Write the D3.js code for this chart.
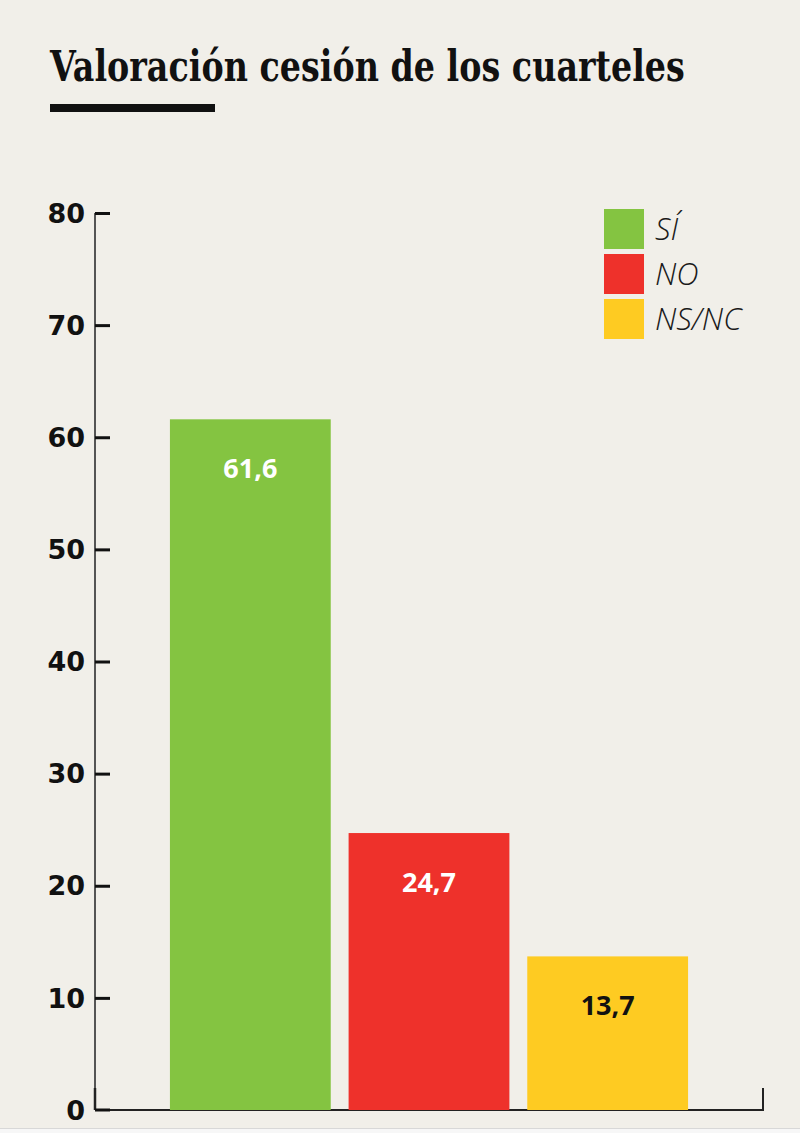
<!DOCTYPE html>
<html><head><meta charset="utf-8">
<script src="https://cdn.jsdelivr.net/npm/d3@7"></script>
<style>html,body{margin:0;padding:0;background:#f1efe9;}svg{display:block;}</style>
</head><body>
<script>
const categories = ["SÍ", "NO", "NS/NC"];
const values = [61.6, 24.7, 13.7];
const labels = ["61,6", "24,7", "13,7"];
const colors = ["#84c441", "#ee312b", "#fecb22"];
const labelColors = ["#ffffff", "#ffffff", "#111111"];
const tickValues = [0, 10, 20, 30, 40, 50, 60, 70, 80];
const title = "Valoración cesión de los cuarteles";

const W = 800, H = 1133;
const svg = d3.select("body").append("svg").attr("width", W).attr("height", H);
svg.append("rect").attr("width", W).attr("height", H).attr("fill", "#f1efe9");

// title (condensed horizontally to fit the reference width)
const tt = svg.append("text").attr("x", 0).attr("y", 0)
  .attr("font-family", "'DejaVu Serif', 'Liberation Serif', serif")
  .attr("font-weight", "bold").attr("font-size", 42)
  .attr("fill", "#111").text(title);
const natural = tt.node().getComputedTextLength();
tt.attr("transform", `translate(50,81) scale(${635 / natural},1)`);
svg.append("rect").attr("x", 50).attr("y", 104).attr("width", 165).attr("height", 8).attr("fill", "#111");

const y = d3.scaleLinear().domain([0, 80]).range([1110, 213]);
const x = d3.scaleBand().domain(categories).range([161, 697]).paddingInner(0.1).paddingOuter(0.05);

// y axis
const yAxis = d3.axisRight(y).tickValues(tickValues).tickSize(15).tickFormat("");
const gy = svg.append("g").attr("transform", "translate(95,0)").call(yAxis);
gy.select(".domain").attr("stroke", "#555").attr("stroke-width", 2).attr("d", `M0,${y(80)}V${y(0)}`);
gy.selectAll(".tick line").attr("stroke", "#111").attr("stroke-width", 3);
gy.selectAll(".tick").filter(d => d === 0).select("line").attr("x2", 0);

svg.append("g").selectAll("text").data(tickValues).join("text")
  .attr("x", 85).attr("y", d => y(d)).attr("dy", "0.36em")
  .attr("text-anchor", "end")
  .attr("font-family", "'DejaVu Sans', sans-serif").attr("font-weight", "bold").attr("font-size", 27)
  .attr("fill", "#111").text(d => d);

// x baseline
svg.append("path").attr("d", `M95,${y(0)}H763V${y(0) - 22}`).attr("fill", "none").attr("stroke", "#222").attr("stroke-width", 2);
svg.append("path").attr("d", `M95,${y(0)}V${y(0) - 22}`).attr("fill", "none").attr("stroke", "#222").attr("stroke-width", 2.5);
svg.append("path").attr("d", `M95,${y(0)}H110`).attr("fill", "none").attr("stroke", "#111").attr("stroke-width", 3);

// bars
svg.append("g").selectAll("rect").data(values).join("rect")
  .attr("x", (d, i) => x(categories[i])).attr("width", x.bandwidth())
  .attr("y", d => y(d)).attr("height", d => y(0) - y(d))
  .attr("fill", (d, i) => colors[i]);

svg.append("g").selectAll("text").data(values).join("text")
  .attr("x", (d, i) => x(categories[i]) + x.bandwidth() / 2)
  .attr("y", d => y(d) + 49).attr("dy", "0.36em").attr("text-anchor", "middle")
  .attr("font-family", "'Open Sans', sans-serif").attr("font-weight", "bold").attr("font-size", 27)
  .attr("fill", (d, i) => labelColors[i]).text((d, i) => labels[i]);

// legend
const lg = svg.append("g").selectAll("g").data(categories).join("g")
  .attr("transform", (d, i) => `translate(604,${209 + i * 45})`);
lg.append("rect").attr("width", 40).attr("height", 40).attr("fill", (d, i) => colors[i]);
lg.append("text").attr("x", 51).attr("y", 20).attr("dy", "0.36em")
  .attr("font-family", "'Open Sans', sans-serif").attr("font-style", "italic").attr("font-weight", 300)
  .attr("font-size", 31).attr("fill", "#1a1a1a").text(d => d);

// bottom frame line
svg.append("path").attr("d", `M0,1128.5H800M611.5,1128.5V1133`).attr("stroke", "#d8d8d8").attr("stroke-width", 1);
svg.append("rect").attr("x", 0).attr("y", 1129).attr("width", 800).attr("height", 4).attr("fill", "#f7f7f7");
</script>
</body></html>
